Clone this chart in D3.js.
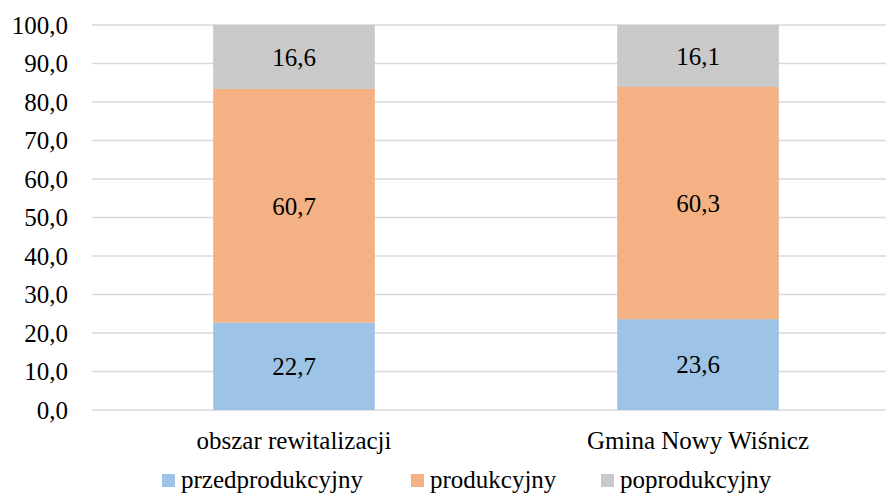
<!DOCTYPE html>
<html lang="pl">
<head>
<meta charset="utf-8">
<script src="https://cdn.jsdelivr.net/npm/d3@7"></script>
</head>
<body style="margin:0">
<script>
// dane
const categories = ["obszar rewitalizacji", "Gmina Nowy Wiśnicz"];
const seriesNames = ["przedprodukcyjny", "produkcyjny", "poprodukcyjny"];
const przedprodukcyjny = [22.7, 23.6];
const produkcyjny = [60.7, 60.3];
const poprodukcyjny = [16.6, 16.1];
const yTicks = [0, 10, 20, 30, 40, 50, 60, 70, 80, 90, 100];
const colors = ["#9DC3E6", "#F4B183", "#C9C9C9"];

const W = 886, H = 494;
const margin = {top: 25, right: -14, bottom: 84, left: 92};
const FONT = "Liberation Serif";
const FS = 25;
const fontStyle = `font-family: 'Liberation Serif', 'Times New Roman', serif !important; font-size: ${FS}px !important;`;

const svg = d3.select("body")
    .append("svg")
    .attr("width", W)
    .attr("height", H)
    .attr("style", "font-family: 'Liberation Serif', serif !important;");

const x = d3.scaleBand()
    .domain(categories)
    .range([margin.left, W - margin.right])
    .paddingInner(0.6)
    .paddingOuter(0.3);

const y = d3.scaleLinear()
    .domain([0, 100])
    .range([H - margin.bottom, margin.top]);

const fmt = v => d3.format(".1f")(v).replace(".", ",");

// linie siatki
svg.append("g")
    .selectAll("line")
    .data(yTicks)
    .join("line")
    .attr("x1", margin.left)
    .attr("x2", W)
    .attr("y1", d => y(d))
    .attr("y2", d => y(d))
    .attr("stroke", "#D9D9D9")
    .attr("stroke-width", 1.5);

// oś Y
svg.append("g")
    .selectAll("text")
    .data(yTicks)
    .join("text")
    .attr("x", margin.left - 24)
    .attr("y", d => y(d))
    .attr("dy", "0.35em")
    .attr("text-anchor", "end")
    .attr("font-family", FONT)
    .attr("font-size", FS)
    .attr("style", fontStyle)
    .text(d => fmt(d));

// dane do stosu
const table = categories.map((c, i) => ({
    cat: c,
    przedprodukcyjny: przedprodukcyjny[i],
    produkcyjny: produkcyjny[i],
    poprodukcyjny: poprodukcyjny[i]
}));
const stacked = d3.stack().keys(seriesNames)(table);

const layers = svg.append("g")
    .selectAll("g")
    .data(stacked)
    .join("g");

layers.selectAll("rect")
    .data(d => d.map(v => ({v: v, i: stacked.indexOf(d)})))
    .join("rect")
    .attr("x", d => x(d.v.data.cat))
    .attr("width", x.bandwidth())
    .attr("y", d => y(d.v[1]))
    .attr("height", d => y(d.v[0]) - y(d.v[1]))
    .attr("fill", d => colors[d.i]);

layers.selectAll("text")
    .data(d => d.map(v => ({v: v, key: d.key})))
    .join("text")
    .attr("x", d => x(d.v.data.cat) + x.bandwidth() / 2)
    .attr("y", d => y((d.v[0] + d.v[1]) / 2))
    .attr("dy", "0.35em")
    .attr("text-anchor", "middle")
    .attr("font-family", FONT)
    .attr("font-size", FS)
    .attr("style", fontStyle)
    .text(d => fmt(d.v.data[d.key]));

// etykiety kategorii
svg.append("g")
    .selectAll("text")
    .data(categories)
    .join("text")
    .attr("x", d => x(d) + x.bandwidth() / 2)
    .attr("y", 449)
    .attr("text-anchor", "middle")
    .attr("font-family", FONT)
    .attr("font-size", FS)
    .attr("style", fontStyle)
    .text(d => d);

// legenda
const legendX = [162, 411, 601];
const legend = svg.append("g")
    .selectAll("g")
    .data(seriesNames)
    .join("g")
    .attr("transform", (d, i) => `translate(${legendX[i]},474)`);

legend.append("rect")
    .attr("width", 13)
    .attr("height", 13)
    .attr("fill", (d, i) => colors[i]);

legend.append("text")
    .attr("x", 19)
    .attr("y", 14)
    .attr("font-family", FONT)
    .attr("font-size", FS)
    .attr("style", fontStyle)
    .text(d => d);
</script>
</body>
</html>
